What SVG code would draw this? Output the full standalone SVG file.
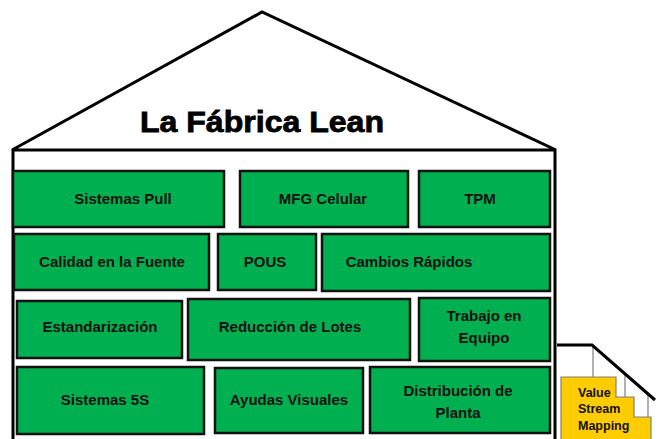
<svg xmlns="http://www.w3.org/2000/svg" width="661" height="439" viewBox="0 0 661 439">
<style>
.box{fill:#00B050;stroke:#121212;stroke-width:2.5}
.lbl{font-family:"Liberation Sans",Arial,sans-serif;font-weight:bold;font-size:15px;fill:#111;text-anchor:middle}
.house{fill:none;stroke:#000;stroke-width:3}
.thin{stroke:#7f7f7f;stroke-width:1.2;fill:none}
.vsm{font-family:"Liberation Sans",Arial,sans-serif;font-weight:bold;font-size:12.5px;fill:#111}
</style>
<rect width="661" height="439" fill="#fff"/>
<g id="house">
<path class="house" d="M12,150 L262,12 L556,150 Z"/>
<path class="house" d="M13,150 L13,439 M555,150 L555,439"/>
<text x="262" y="132" font-family="'Liberation Sans',Arial,sans-serif" font-weight="bold" font-size="29" fill="#000" stroke="#000" stroke-width="0.8" text-anchor="middle" textLength="244" lengthAdjust="spacingAndGlyphs">La Fábrica Lean</text>
</g>
<g id="sistemas-pull"><rect class="box" x="13" y="171" width="211" height="56"/><text class="lbl" x="123" y="204">Sistemas Pull</text></g>
<g id="mfg-celular"><rect class="box" x="240" y="171" width="168" height="56"/><text class="lbl" x="323" y="204">MFG Celular</text></g>
<g id="tpm"><rect class="box" x="419" y="171" width="131" height="56"/><text class="lbl" x="480" y="204">TPM</text></g>
<g id="calidad"><rect class="box" x="14" y="234" width="195" height="56"/><text class="lbl" x="112" y="267">Calidad en la Fuente</text></g>
<g id="pous"><rect class="box" x="218" y="234" width="98" height="56"/><text class="lbl" x="265" y="267">POUS</text></g>
<g id="cambios"><rect class="box" x="322" y="234" width="228" height="57"/><text class="lbl" x="409" y="267">Cambios Rápidos</text></g>
<g id="estandarizacion"><rect class="box" x="17" y="301" width="165" height="57"/><text class="lbl" x="100" y="332">Estandarización</text></g>
<g id="reduccion"><rect class="box" x="188" y="299" width="222" height="61"/><text class="lbl" x="290" y="332">Reducción de Lotes</text></g>
<g id="trabajo"><rect class="box" x="419" y="298" width="131" height="63"/><text class="lbl" x="484" y="321">Trabajo en</text><text class="lbl" x="484" y="343">Equipo</text></g>
<g id="sistemas-5s"><rect class="box" x="17" y="367" width="187" height="67"/><text class="lbl" x="105" y="405">Sistemas 5S</text></g>
<g id="ayudas"><rect class="box" x="215" y="368" width="148" height="65"/><text class="lbl" x="289" y="405">Ayudas Visuales</text></g>
<g id="distribucion"><rect class="box" x="370" y="367" width="180" height="66"/><text class="lbl" x="458" y="396">Distribución de</text><text class="lbl" x="458" y="418">Planta</text></g>
<g id="vsm">
<path d="M561,377 L616,377 L616,397 L634,397 L634,417 L651,417 L651,441 L561,441 Z" fill="#FFCC00" stroke="#7f7f7f" stroke-width="1.2"/>
<path class="thin" d="M593,345 L593,377 M625,373 L625,397 M648,394 L648,417"/>
<path d="M557,345 L592,345 L655,400" fill="none" stroke="#000" stroke-width="3"/>
<text class="vsm" x="578" y="397">Value</text>
<text class="vsm" x="578" y="413">Stream</text>
<text class="vsm" x="578" y="430">Mapping</text>
</g>
<g id="connectors"></g>
</svg>
